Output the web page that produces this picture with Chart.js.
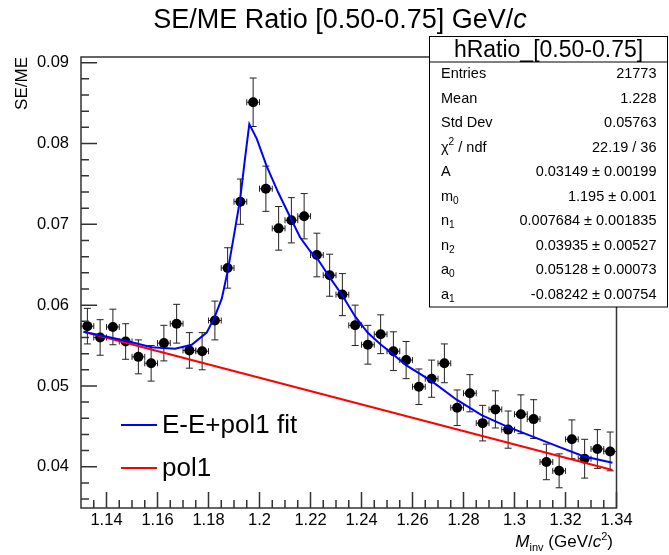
<!DOCTYPE html>
<html>
<head>
<meta charset="utf-8">
<title>SE/ME Ratio</title>
<script src="https://cdn.jsdelivr.net/npm/chart.js@4.4.1/dist/chart.umd.min.js"></script>
<style>
  html, body { margin: 0; padding: 0; background: #fff; }
  canvas { display: block; }
</style>
</head>
<body>
<canvas id="ratioChart" width="669" height="555"></canvas>
<script>
// histogram bins (centres, width 0.005 GeV/c^2)
const binCenters = [1.1325, 1.1375, 1.1425, 1.1475, 1.1525, 1.1575, 1.1625, 1.1675, 1.1725, 1.1775,
  1.1825, 1.1875, 1.1925, 1.1975, 1.2025, 1.2075, 1.2125, 1.2175, 1.2225, 1.2275,
  1.2325, 1.2375, 1.2425, 1.2475, 1.2525, 1.2575, 1.2625, 1.2675, 1.2725, 1.2775,
  1.2825, 1.2875, 1.2925, 1.2975, 1.3025, 1.3075, 1.3125, 1.3175, 1.3225, 1.3275,
  1.3325, 1.3375];
const halfBin = 0.0025;

const ratio = [0.0574, 0.0560, 0.0573, 0.0555, 0.0536, 0.0528, 0.0553, 0.0577, 0.0544, 0.0543,
  0.0581, 0.0646, 0.0728, 0.0851, 0.0744, 0.0695, 0.0705, 0.0710, 0.0662, 0.0637,
  0.0613, 0.0575, 0.0551, 0.0564, 0.0543, 0.0532, 0.0499, 0.0509, 0.0528, 0.0473,
  0.0491, 0.0454, 0.0471, 0.0446, 0.0465, 0.0459, 0.0406, 0.0395, 0.0434, 0.0410,
  0.0422, 0.0419];

const ratioErr = [0.0022, 0.0022, 0.0022, 0.0022, 0.0021, 0.0022, 0.0022, 0.0024, 0.0022, 0.0023,
  0.0024, 0.0025, 0.0028, 0.0030, 0.0028, 0.0027, 0.0028, 0.0028, 0.0027, 0.0026,
  0.0026, 0.0025, 0.0024, 0.0024, 0.0024, 0.0023, 0.0022, 0.0023, 0.0024, 0.0022,
  0.0023, 0.0022, 0.0023, 0.0023, 0.0024, 0.0024, 0.0022, 0.0021, 0.0024, 0.0024,
  0.0024, 0.0024];

// E-E + pol1 fit curve
const fitX = [1.131, 1.1475, 1.1577, 1.1669, 1.1734, 1.1793, 1.1825, 1.1852, 1.1874, 1.1897,
  1.1924, 1.1943, 1.196, 1.1989, 1.2028, 1.2074, 1.212, 1.2159, 1.2198, 1.2228,
  1.2274, 1.2325, 1.2375, 1.2424, 1.2473, 1.2525, 1.2573, 1.2675, 1.2773, 1.2871,
  1.2969, 1.3074, 1.3172, 1.327, 1.3384];
const fitY = [0.0567, 0.0556, 0.0548, 0.0546, 0.0551, 0.0566, 0.0586, 0.0608, 0.0640, 0.0681,
  0.0731, 0.0781, 0.0824, 0.0806, 0.0772, 0.0739, 0.0709, 0.0684, 0.0667, 0.0657,
  0.0635, 0.0612, 0.0586, 0.0566, 0.0552, 0.0539, 0.0526, 0.0506, 0.0483, 0.0464,
  0.0450, 0.0437, 0.0425, 0.0413, 0.0405];

// pol1 background
const polX = [1.131, 1.3384];
const polY = [0.0567, 0.0396];

const xTickLabels = ['1.14', '1.16', '1.18', '1.2', '1.22', '1.24', '1.26', '1.28', '1.3', '1.32', '1.34'];
const yTickLabels = ['0.04', '0.05', '0.06', '0.07', '0.08', '0.09'];

const statLabels = ['Entries', 'Mean', 'Std Dev', 'χ^2 / ndf', 'A', 'm_0', 'n_1', 'n_2', 'a_0', 'a_1'];
const statValues = ['21773', '1.228', '0.05763', '22.19 / 36', '0.03149 ± 0.00199', '1.195 ± 0.001',
  '0.007684 ± 0.001835', '0.03935 ± 0.00527', '0.05128 ± 0.00073', '-0.08242 ± 0.00754'];

const FONT = '"Liberation Sans", Arial, Helvetica, sans-serif';

// draws text where "_x" / "^x" put one char low / high
function richText(ctx, str, x, y, size) {
  let cx = x;
  for (let i = 0; i < str.length; i++) {
    let ch = str[i], dy = 0, s = size;
    if ((ch === '_' || ch === '^') && i + 1 < str.length) {
      dy = ch === '_' ? size * 0.3 : -size * 0.4;
      s = size * 0.7;
      ch = str[++i];
    }
    ctx.font = s + 'px ' + FONT;
    ctx.fillText(ch, cx, y + dy);
    cx += ctx.measureText(ch).width;
  }
}

function drawPieces(ctx, pieces, x, y) {
  let cx = x;
  pieces.forEach(p => {
    ctx.font = p.f;
    ctx.fillText(p.t, cx, y + (p.dy || 0));
    cx += ctx.measureText(p.t).width;
  });
}

function piecesWidth(ctx, pieces) {
  let w = 0;
  pieces.forEach(p => { ctx.font = p.f; w += ctx.measureText(p.t).width; });
  return w;
}

const rootStyle = {
  id: 'rootStyle',
  beforeDatasetsDraw(chart) {
    const { ctx, scales: { x, y } } = chart;
    ctx.save();
    ctx.strokeStyle = '#222';
    ctx.lineWidth = 1;
    binCenters.forEach((bx, i) => {
      const px = x.getPixelForValue(bx);
      const py = y.getPixelForValue(ratio[i]);
      const top = y.getPixelForValue(ratio[i] + ratioErr[i]);
      const bot = y.getPixelForValue(ratio[i] - ratioErr[i]);
      const xl = x.getPixelForValue(bx - halfBin);
      const xr = x.getPixelForValue(bx + halfBin);
      ctx.beginPath();
      ctx.moveTo(px, top); ctx.lineTo(px, bot);
      ctx.moveTo(px - 3.5, top); ctx.lineTo(px + 3.5, top);
      ctx.moveTo(px - 3.5, bot); ctx.lineTo(px + 3.5, bot);
      ctx.moveTo(xl, py); ctx.lineTo(xr, py);
      ctx.moveTo(xl, py - 3); ctx.lineTo(xl, py + 3);
      ctx.moveTo(xr, py - 3); ctx.lineTo(xr, py + 3);
      ctx.stroke();
    });
    ctx.restore();
  },
  afterDraw(chart) {
    const { ctx, chartArea: a, scales: { x, y } } = chart;
    ctx.save();

    // frame + inward ticks
    ctx.strokeStyle = '#333';
    ctx.lineWidth = 1.5;
    ctx.strokeRect(a.left, a.top, a.right - a.left, a.bottom - a.top);
    ctx.beginPath();
    for (let k = 18; k <= 45; k++) {
      const py = y.getPixelForValue(k * 0.002);
      if (py < a.top || py > a.bottom) continue;
      const len = k % 5 === 0 ? 16 : 8;
      ctx.moveTo(a.left, py); ctx.lineTo(a.left + len, py);
    }
    for (let k = 227; k <= 268; k++) {
      const px = x.getPixelForValue(k * 0.005);
      const len = k % 4 === 0 ? 16 : 8;
      ctx.moveTo(px, a.bottom); ctx.lineTo(px, a.bottom - len);
    }
    ctx.stroke();

    ctx.fillStyle = '#000';
    ctx.textBaseline = 'alphabetic';

    // title
    const title = [
      { t: 'SE/ME Ratio [0.50-0.75] GeV/', f: '27px ' + FONT },
      { t: 'c', f: 'italic 27px ' + FONT }
    ];
    ctx.textAlign = 'left';
    drawPieces(ctx, title, 340 - piecesWidth(ctx, title) / 2, 28);

    // y axis title, aligned to the top of the axis
    ctx.save();
    ctx.translate(22, a.top);
    ctx.rotate(-Math.PI / 2);
    ctx.textAlign = 'right';
    ctx.textBaseline = 'middle';
    ctx.font = '17px ' + FONT;
    ctx.fillText('SE/ME', 0, 0);
    ctx.restore();

    // x axis title, aligned to the right end
    const xt = [
      { t: 'M', f: 'italic 17px ' + FONT },
      { t: 'inv', f: '11px ' + FONT, dy: 4 },
      { t: ' (GeV/', f: '17px ' + FONT },
      { t: 'c', f: 'italic 17px ' + FONT },
      { t: '2', f: '11px ' + FONT, dy: -7 },
      { t: ')', f: '17px ' + FONT }
    ];
    drawPieces(ctx, xt, 613 - piecesWidth(ctx, xt), 547);

    // legend
    const ds = chart.data.datasets;
    [[0, 425], [1, 468]].forEach(([i, ly]) => {
      ctx.strokeStyle = ds[i].borderColor;
      ctx.lineWidth = 2;
      ctx.beginPath();
      ctx.moveTo(121, ly); ctx.lineTo(157, ly);
      ctx.stroke();
      ctx.font = '26px ' + FONT;
      ctx.textBaseline = 'middle';
      ctx.fillText(ds[i].label, 162, ly + 1);
    });

    // stats box
    const bx0 = 429.5, bx1 = 667.5, by0 = 36.5, headH = 25.5, rowH = 24.5;
    const by1 = by0 + headH + rowH * statLabels.length;
    ctx.fillStyle = '#fff';
    ctx.fillRect(bx0, by0, bx1 - bx0, by1 - by0);
    ctx.strokeStyle = '#000';
    ctx.lineWidth = 1;
    ctx.strokeRect(bx0, by0, bx1 - bx0, by1 - by0);
    ctx.beginPath();
    ctx.moveTo(bx0, by0 + headH); ctx.lineTo(bx1, by0 + headH);
    ctx.stroke();
    ctx.fillStyle = '#000';
    ctx.textBaseline = 'middle';
    ctx.textAlign = 'center';
    ctx.font = '23px ' + FONT;
    ctx.fillText(chart.data.datasets[2].label, (bx0 + bx1) / 2, by0 + headH * 0.5 + 1);
    statLabels.forEach((lab, k) => {
      const ry = by0 + headH + rowH * (k + 0.5);
      ctx.textAlign = 'left';
      richText(ctx, lab, 441, ry, 14.5);
      ctx.textAlign = 'right';
      ctx.font = '14.5px ' + FONT;
      ctx.fillText(statValues[k], 656.5, ry);
    });

    ctx.restore();
  }
};

const ctx = document.getElementById('ratioChart').getContext('2d');
new Chart(ctx, {
  type: 'scatter',
  data: {
    datasets: [{
      type: 'line',
      label: 'E-E+pol1 fit',
      data: fitX.map((v, i) => ({ x: v, y: fitY[i] })),
      borderColor: '#0000ff',
      borderWidth: 2,
      pointRadius: 0,
      tension: 0,
      fill: false,
      order: 1
    }, {
      type: 'line',
      label: 'pol1',
      data: polX.map((v, i) => ({ x: v, y: polY[i] })),
      borderColor: '#ff0000',
      borderWidth: 2,
      pointRadius: 0,
      tension: 0,
      fill: false,
      order: 2
    }, {
      label: 'hRatio_[0.50-0.75]',
      data: binCenters.map((v, i) => ({ x: v, y: ratio[i] })),
      pointRadius: 5,
      pointHoverRadius: 5,
      backgroundColor: '#000',
      borderColor: '#000',
      borderWidth: 0,
      order: 3
    }]
  },
  options: {
    responsive: false,
    animation: false,
    devicePixelRatio: 1,
    layout: { padding: { top: 57, right: 52.5, left: 0, bottom: 0 } },
    plugins: {
      legend: { display: false },
      tooltip: { enabled: false }
    },
    scales: {
      x: {
        type: 'linear',
        min: 1.13,
        max: 1.34,
        afterBuildTicks: s => { s.ticks = xTickLabels.map(t => ({ value: parseFloat(t) })); },
        afterFit: s => { s.height = 47; },
        grid: { display: false, drawTicks: false },
        border: { display: false },
        ticks: {
          autoSkip: false,
          maxRotation: 0,
          padding: 3,
          color: '#000',
          font: { family: FONT, size: 16.5 },
          callback: (v, i) => xTickLabels[i]
        }
      },
      y: {
        min: 0.0349,
        max: 0.0907,
        afterBuildTicks: s => { s.ticks = yTickLabels.map(t => ({ value: parseFloat(t) })); },
        afterFit: s => { s.width = 81; },
        grid: { display: false, drawTicks: false },
        border: { display: false },
        ticks: {
          padding: 12,
          color: '#000',
          font: { family: FONT, size: 16.5 },
          callback: (v, i) => yTickLabels[i]
        }
      }
    }
  },
  plugins: [rootStyle]
});
</script>
</body>
</html>
